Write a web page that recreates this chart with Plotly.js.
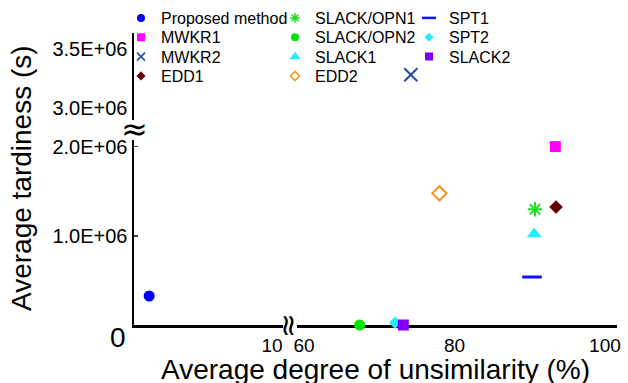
<!DOCTYPE html>
<html>
<head>
<meta charset="utf-8">
<script src="https://cdn.plot.ly/plotly-3.0.1.min.js"></script>
<style>html,body{margin:0;padding:0;background:#fff;}#chart{width:628px;height:383px;}</style>
</head>
<body>
<div id="chart"></div>
<script>
// ---- data ----
const methods = ["Proposed method","MWKR1","MWKR2","EDD1",
                 "SLACK/OPN1","SLACK/OPN2","SLACK1","EDD2",
                 "SPT1","SPT2","SLACK2"];
const unsimilarity = [1.1, 93.4, 74.2, 93.5, 90.7, 67.4, 90.6, 78.0, 90.3, 72.1, 73.2];   // %
const tardiness = [0.325e6, 2.0e6, 3.28e6, 1.323e6, 1.297e6, 0.0, 1.02e6, 1.476e6, 0.538e6, 0.026e6, 0.0]; // s
const legendColumn = [1,1,1,1, 2,2,2,2, 3,3,3];
const legendRow    = [1,2,3,4, 1,2,3,4, 1,2,3];
const yTickValsLow = [1e6, 2e6];
const yTickTextLow = ["1.0E+06","2.0E+06"];
const yTickValsHigh = [3.0e6, 3.5e6];
const yTickTextHigh = ["3.0E+06","3.5E+06"];
const xTickValsLeft = [10];
const xTickValsRight = [60, 80, 100];
const originLabel = "0";
const xTitle = "Average degree of unsimilarity (%)";
const yTitle = "Average tardiness (s)";

// ---- styles ----
const styles = {
  "Proposed method": {symbol:"circle", color:"#0000ff", size:11, ls:8},
  "MWKR1": {symbol:"square", color:"#ff00ff", size:11, ls:8},
  "MWKR2": {symbol:"x-thin-open", color:"#1f4fa0", size:13, lw:2, ls:8, llw:1.5},
  "EDD1": {symbol:"diamond", color:"#660000", size:10.5, ls:7},
  "SLACK/OPN1": {symbol:"asterisk-open", color:"#22dd22", size:12, lw:2, ls:8, llw:1.5},
  "SLACK/OPN2": {symbol:"circle", color:"#00e600", size:11, ls:8},
  "SLACK1": {symbol:"triangle-up", color:"#1ff0ff", size:13, ls:9.5},
  "EDD2": {symbol:"diamond-open", color:"#f7941d", size:11, lw:2, ls:7, llw:1.5},
  "SPT1": {symbol:"line-ew-open", color:"#1010ff", size:14, lw:3, ls:10, llw:2.5},
  "SPT2": {symbol:"diamond", color:"#1ff0ff", size:9.5, ls:7},
  "SLACK2": {symbol:"square", color:"#8000ff", size:11, ls:8}
};

const W = 628, H = 383;
const px = v => v / W;
const py = v => 1 - v / H;
const FONT = "Liberation Sans, Arial, sans-serif";
const colTextX = {1:163, 2:317, 3:451};
const rowY = {1:18, 2:37.3, 3:56.7, 4:76};

const traces = [];
const legends = {};
methods.forEach((m, i) => {
  const s = styles[m];
  const xa = unsimilarity[i] < 40 ? "x" : "x2";
  const ya = tardiness[i] > 2.5e6 ? "y2" : "y";
  const legKey = i === 0 ? "legend" : "legend" + (i + 1);
  // data mark
  traces.push({
    type: "scatter", mode: "markers", name: m, showlegend: false,
    x: [unsimilarity[i]], y: [tardiness[i]],
    xaxis: xa, yaxis: ya, cliponaxis: false,
    marker: {symbol: s.symbol, color: s.color, size: s.size,
             line: {color: s.color, width: s.lw || 0}}
  });
  // legend entry (no data, smaller key marker)
  traces.push({
    type: "scatter", mode: "markers", name: m, showlegend: true, legend: legKey,
    x: [null], y: [null], xaxis: xa, yaxis: ya,
    marker: {symbol: s.symbol, color: s.color, size: s.ls,
             line: {color: s.color, width: s.llw || 0}}
  });
  legends[legKey] = {
    orientation:"v", xanchor:"left", yanchor:"middle",
    x: px(colTextX[legendColumn[i]] - 42), y: py(rowY[legendRow[i]]),
    bgcolor:"rgba(0,0,0,0)", borderwidth:0, font:{family:FONT, size:16, color:"#000"},
    itemclick:false
  };
});

const axisCommon = {showgrid:false, zeroline:false, showline:true, linecolor:"#000", linewidth:2.5,
                    layer:"below traces", tickfont:{family:FONT, size:20, color:"#000"}};

const layout = Object.assign({
  width: W, height: H,
  margin: {l:0, r:0, t:0, b:0},
  paper_bgcolor:"#fff", plot_bgcolor:"rgba(0,0,0,0)",
  font: {family: FONT, color:"#000"},
  showlegend: true,
  xaxis: Object.assign({}, axisCommon, {domain:[px(134), px(283)], range:[0, 10.8], anchor:"y",
    tickmode:"array", tickvals:xTickValsLeft, ticks:"", tickfont:{family:FONT, size:19, color:"#000"},
    ticklabelstandoff: 2}),
  xaxis2: Object.assign({}, axisCommon, {domain:[px(297), px(617)], range:[59.07, 101.6], anchor:"y",
    tickmode:"array", tickvals:xTickValsRight, ticks:"", tickfont:{family:FONT, size:19, color:"#000"},
    ticklabelstandoff: 2}),
  yaxis: Object.assign({}, axisCommon, {domain:[py(325), py(140)], range:[0, 2.074e6], anchor:"x",
    tickmode:"array", tickvals:yTickValsLow, ticktext:yTickTextLow, ticks:"inside", ticklen:4, tickwidth:1.5}),
  yaxis2: Object.assign({}, axisCommon, {domain:[py(120), py(33)], range:[2.899e6, 3.632e6], anchor:"x",
    tickmode:"array", tickvals:yTickValsHigh, ticktext:yTickTextHigh, ticks:""}),
  annotations: [
    {xref:"paper", yref:"paper", x:px(128), y:py(337), xanchor:"right", yanchor:"middle",
     text:originLabel, showarrow:false, font:{family:FONT, size:28, color:"#000"}},
    {xref:"paper", yref:"paper", x:px(21), y:py(178), xanchor:"center", yanchor:"middle",
     text:yTitle, textangle:-90, showarrow:false, font:{family:FONT, size:28, color:"#000"}},
    {xref:"paper", yref:"paper", x:px(375), y:py(352), xanchor:"center", yanchor:"top",
     text:xTitle, showarrow:false, font:{family:FONT, size:28, color:"#000"}},
    {xref:"paper", yref:"paper", x:px(134), y:py(129), xanchor:"center", yanchor:"middle",
     text:"≈", showarrow:false, font:{family:"DejaVu Sans", size:32, color:"#000"}},
    {xref:"paper", yref:"paper", x:px(290), y:py(325), xanchor:"center", yanchor:"middle",
     text:"≈", textangle:90, showarrow:false, font:{family:"DejaVu Sans", size:30, color:"#000"}}
  ]
}, legends);

Plotly.newPlot("chart", traces, layout, {displayModeBar:false, staticPlot:true});
</script>
</body>
</html>
